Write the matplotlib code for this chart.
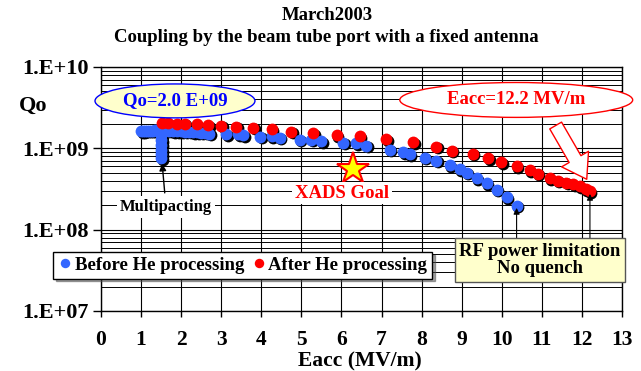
import numpy as np
import matplotlib
matplotlib.use('Agg')
import matplotlib.pyplot as plt
import matplotlib.transforms as mtransforms
from matplotlib.patches import Ellipse, FancyArrowPatch
from matplotlib.ticker import FixedLocator, FuncFormatter, LogLocator

plt.rcParams['font.family'] = 'Liberation Serif'
plt.rcParams['font.weight'] = 'bold'
plt.rcParams['axes.labelweight'] = 'bold'

# dati: Eacc (MV/m) e Qo
before_x = [1.0, 1.05, 1.1, 1.15, 1.2, 1.25, 1.3, 1.35, 1.4, 1.45, 1.5, 1.55, 1.6,
            1.5, 1.5, 1.5, 1.5, 1.5, 1.5,
            1.7, 1.8, 1.9, 2.0, 2.1, 2.2, 2.3, 2.4, 2.5, 2.6, 2.7,
            3.13, 3.42, 3.55, 3.97, 4.26, 4.46, 4.96, 5.25, 5.5, 6.04, 6.37, 6.62,
            7.2, 7.54, 7.7, 8.08, 8.37, 8.7, 8.95, 9.12, 9.37, 9.62, 9.87, 10.12, 10.37]
before_q = [1.62e9, 1.63e9, 1.64e9, 1.64e9, 1.65e9, 1.65e9, 1.65e9, 1.66e9, 1.66e9, 1.66e9, 1.66e9, 1.66e9, 1.65e9,
            1.45e9, 1.25e9, 1.1e9, 0.95e9, 0.85e9, 0.76e9,
            1.64e9, 1.63e9, 1.63e9, 1.62e9, 1.61e9, 1.6e9, 1.58e9, 1.57e9, 1.55e9, 1.55e9, 1.52e9,
            1.5e9, 1.48e9, 1.45e9, 1.38e9, 1.4e9, 1.35e9, 1.28e9, 1.28e9, 1.22e9, 1.17e9, 1.15e9, 1.08e9,
            9.6e8, 8.9e8, 8.5e8, 7.7e8, 7.0e8, 6.2e8, 5.5e8, 5.0e8, 4.3e8, 3.7e8, 3.1e8, 2.5e8, 1.98e8]

after_x = [1.51, 1.68, 1.89, 2.09, 2.39, 2.68, 3.0, 3.38, 3.8, 4.26, 4.75, 5.3, 5.88, 6.46,
           7.12, 7.79, 8.37, 8.75, 9.28, 9.66, 9.99, 10.37, 10.7, 10.9, 11.2, 11.4, 11.61,
           11.78, 11.95, 12.1, 12.2]
after_q = [2.05e9, 2.03e9, 2.0e9, 2.0e9, 1.97e9, 1.92e9, 1.9e9, 1.83e9, 1.78e9, 1.72e9, 1.6e9,
           1.53e9, 1.45e9, 1.4e9, 1.3e9, 1.18e9, 1.05e9, 9.3e8, 8.6e8, 7.5e8, 6.7e8, 6.0e8,
           5.4e8, 4.9e8, 4.3e8, 4.0e8, 3.75e8, 3.6e8, 3.4e8, 3.15e8, 2.97e8]

xads_x = [6.3]
xads_q = [5.5e8]

x_ticks = list(range(0, 14))
y_ticks = [1e7, 1e8, 1e9, 1e10]
y_labels = ['1.E+07', '1.E+08', '1.E+09', '1.E+10']

blu = '#3366ff'
rosso = '#ff0000'

fig = plt.figure(figsize=(6.41, 3.71), dpi=100)
fig.patch.set_facecolor('white')
ax = fig.add_axes([101/641, 1-311/371, 521/641, 244/371])

# ombra dei punti (spostata in basso a destra)
ombra = mtransforms.offset_copy(ax.transData, fig=fig, x=1.5, y=-1.5, units='dots')
ax.plot(before_x, before_q, 'o', color='black', ms=8.5, mew=0, transform=ombra, zorder=3)
ax.plot(after_x, after_q, 'o', color='black', ms=8.5, mew=0, transform=ombra, zorder=3)
ax.plot(before_x, before_q, 'o', color=blu, ms=8.5, mew=0, zorder=4, label='Before He processing')
ax.plot(after_x, after_q, 'o', color=rosso, ms=8.5, mew=0, zorder=4, label='After He processing')

ax.set_yscale('log')
ax.set_xlim(0, 13)
ax.set_ylim(1e7, 1e10)
ax.xaxis.set_major_locator(FixedLocator(x_ticks))
ax.set_xticklabels([str(v) for v in x_ticks], fontsize=15.5)
ax.yaxis.set_major_locator(FixedLocator(y_ticks))
ax.yaxis.set_minor_locator(LogLocator(base=10, subs=range(2, 10)))
ax.set_yticklabels(y_labels, fontsize=16)
ax.yaxis.set_minor_formatter(FuncFormatter(lambda v, p: ''))
ax.tick_params(axis='y', which='major', length=6, width=1, pad=3)
ax.tick_params(axis='y', which='minor', length=0)
ax.tick_params(axis='x', which='major', length=4, width=1, pad=10)
ax.grid(which='major', color='black', lw=0.8)
ax.grid(which='minor', axis='y', color='black', lw=0.7)
for s in ax.spines.values():
    s.set_linewidth(1)

ax.set_xlabel('Eacc (MV/m)', fontsize=15.5, fontweight='bold', va='center')
ax.xaxis.set_label_coords((360-101)/521, -(361-311)/244)
fig.text(33/641, 1-106/371, 'Qo', fontsize=16, ha='center', va='center')

fig.text(327/641, 1-15/371, 'March2003', fontsize=13.5, ha='center', va='center')
fig.text(326/641, 1-38/371, 'Coupling by the beam tube port with a fixed antenna',
         fontsize=13.5, ha='center', va='center')

# ellissi
e1 = Ellipse((0.142, 0.861), 0.307, 0.139, transform=ax.transAxes, facecolor='#ffffcc',
             edgecolor='blue', lw=1, clip_on=False, zorder=6)
ax.add_patch(e1)
ax.text(0.142, 0.861, 'Qo=2.0 E+09', transform=ax.transAxes, color='blue', fontsize=13.5,
        ha='center', va='center', zorder=7)
e2 = Ellipse((0.797, 0.865), 0.447, 0.143, transform=ax.transAxes, facecolor='white',
             edgecolor='red', lw=1, clip_on=False, zorder=6)
ax.add_patch(e2)
ax.text(0.797, 0.865, 'Eacc=12.2 MV/m', transform=ax.transAxes, color='red', fontsize=13.5,
        ha='center', va='center', zorder=7)

freccia = FancyArrowPatch((0.87, 0.77), (0.935, 0.53), transform=ax.transAxes,
                          arrowstyle='simple,head_width=1.6,head_length=1.2,tail_width=0.7',
                          mutation_scale=14, facecolor='white', edgecolor='red', lw=1, zorder=6)
ax.add_patch(freccia)

# stella XADS
ax.plot(xads_x, xads_q, marker='*', ms=24, color='yellow', mec='red', mew=1.5, ls='none', zorder=6)
ax.text((342-101)/521, (311-193)/244, 'XADS Goal', transform=ax.transAxes, color='red',
        fontsize=13.5, ha='center', va='center', zorder=6,
        bbox=dict(boxstyle='square,pad=0.15', fc='white', ec='none'))

ax.annotate('Multipacting', xy=(1.52, 7.0e8), xytext=((166-101)/521, (311-207)/244),
            textcoords='axes fraction', fontsize=12, ha='center', va='center', zorder=6,
            bbox=dict(boxstyle='square,pad=0.2', fc='white', ec='none'),
            arrowprops=dict(arrowstyle='-|>', color='black', lw=1, mutation_scale=10))

rf = ax.text((540-101)/521, (311-260)/244, 'RF power limitation\nNo quench', transform=ax.transAxes,
             fontsize=13.5, ha='center', va='center', zorder=7, linespacing=1.05, clip_on=False,
             bbox=dict(boxstyle='square,pad=0.25', fc='#ffffcc', ec='#555555', lw=1))
ax.annotate('', xy=(10.37, 1.85e8), xytext=(10.37, 10**(10-(238-67)/81.3)),
            arrowprops=dict(arrowstyle='-|>', color='black', lw=0.8, mutation_scale=9,
                            shrinkA=0, shrinkB=0), zorder=6)
ax.annotate('', xy=(12.2, 2.75e8), xytext=(12.2, 10**(10-(238-67)/81.3)),
            arrowprops=dict(arrowstyle='-|>', color='black', lw=0.8, mutation_scale=9,
                            shrinkA=0, shrinkB=0), zorder=6)

leg = ax.legend(loc='upper left', bbox_to_anchor=((53-101)/521, (311-252)/244), ncol=2,
                fontsize=13.5, frameon=True, fancybox=False, shadow=True, edgecolor='black',
                framealpha=1, handletextpad=0.1, columnspacing=0.4, borderpad=0.25,
                handlelength=0.8, markerscale=0.8, borderaxespad=0)
leg.set_zorder(8)

fig.savefig('out.png', dpi=100, facecolor='white')
